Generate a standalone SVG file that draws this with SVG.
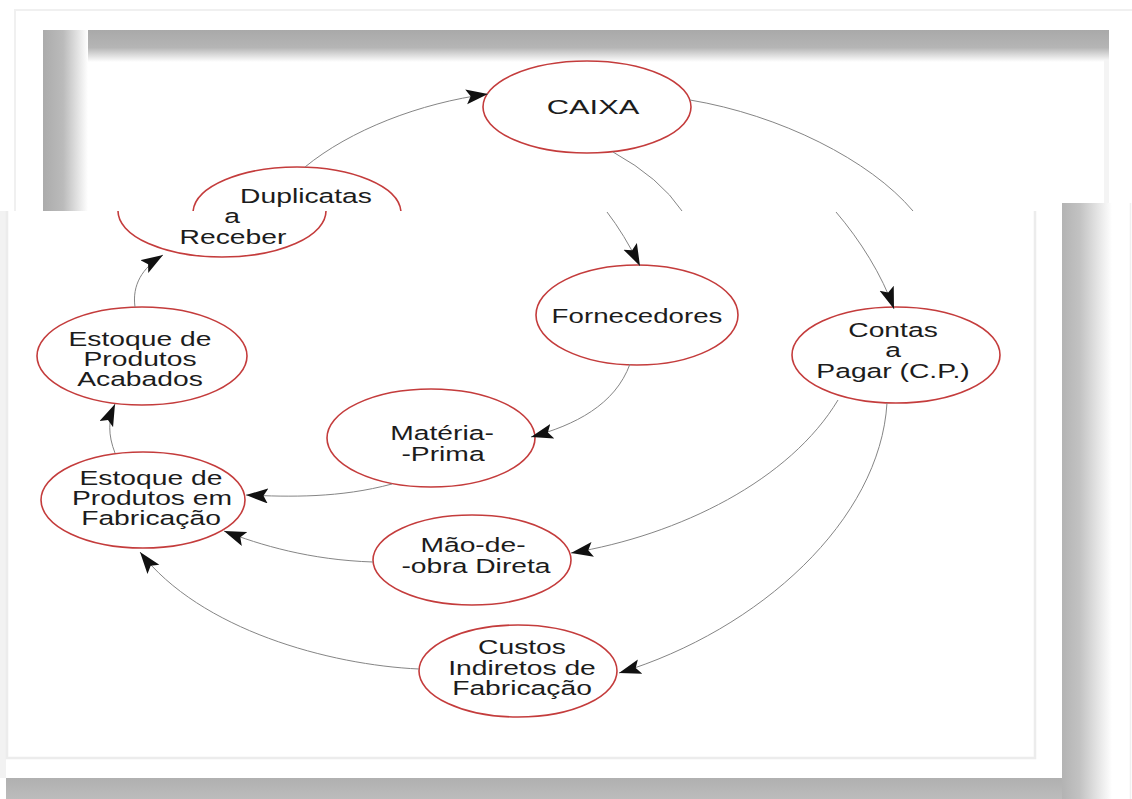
<svg xmlns="http://www.w3.org/2000/svg" width="1132" height="799" viewBox="0 0 1132 799">
<style>
.node{fill:#fff;stroke:#c43c3c;stroke-width:1.6}
.arc{fill:none;stroke:#c43c3c;stroke-width:1.6}
.lbl{font-family:"Liberation Sans",Arial,sans-serif;font-size:19.5px;fill:#1c1c1c;text-anchor:middle}
.big{font-size:21px}
.conn{fill:none;stroke:#858585;stroke-width:1}
.arr{marker-end:url(#ah)}
</style>
<defs>
<marker id="ah" markerUnits="userSpaceOnUse" markerWidth="24" markerHeight="16" refX="22" refY="7.5" orient="auto">
<path d="M0,0 L22,7.5 L0,15 L4.5,7.5 z" fill="#111"/>
</marker>
<linearGradient id="gTop" x1="0" y1="0" x2="0" y2="1">
<stop offset="0" stop-color="#a9a9a9"/><stop offset="0.55" stop-color="#b5b5b5"/><stop offset="1" stop-color="#fff"/>
</linearGradient>
<linearGradient id="gLeft" x1="0" y1="0" x2="1" y2="0">
<stop offset="0" stop-color="#ababab"/><stop offset="0.45" stop-color="#bbbbbb"/><stop offset="1" stop-color="#fff"/>
</linearGradient>
<linearGradient id="gRight" x1="0" y1="0" x2="1" y2="0">
<stop offset="0" stop-color="#b3b3b3"/><stop offset="0.35" stop-color="#c2c2c2"/><stop offset="1" stop-color="#fff"/>
</linearGradient>
<linearGradient id="gBottom" x1="0" y1="0" x2="0" y2="1">
<stop offset="0" stop-color="#b0b0b0"/><stop offset="1" stop-color="#bcbcbc"/>
</linearGradient>
</defs>

<!-- back picture -->
<g id="back-frame">
<rect x="0" y="0" width="1132" height="799" fill="#fff"/>
<path d="M15,211 V10 H1132" fill="none" stroke="#f0f0f0" stroke-width="2"/>
<rect x="43" y="30" width="1066" height="32" fill="url(#gTop)"/>
<rect x="43" y="30" width="45" height="181" fill="url(#gLeft)"/>
<rect x="1104" y="60" width="5" height="151" fill="#f4f4f4"/>
</g>

<g id="caixa">
<ellipse class="node" cx="587" cy="107" rx="104" ry="46"/>
<text class="lbl big" transform="translate(593,0) scale(1.47,1)" x="0" y="114">CAIXA</text>
</g>
<g id="duplicatas-back">
<path class="arc" d="M193.1,211 A104,46 0 0 1 400.9,211"/>
<text class="lbl" transform="translate(306,0) scale(1.45,1)" x="0" y="203">Duplicatas</text>
</g>

<!-- front picture -->
<g id="front-frame">
<rect x="0" y="211" width="1062" height="567" fill="#fff"/>
<rect x="1000" y="203" width="62" height="10" fill="#fff"/>
<rect x="0" y="211" width="6" height="567" fill="#f2f2f2"/>
<path d="M7,211 V758 H1035 V211" fill="none" stroke="#ececec" stroke-width="2.5"/>
<rect x="1062" y="203" width="50" height="596" fill="url(#gRight)"/>
<rect x="6" y="778" width="1056" height="21" fill="url(#gBottom)"/>
<rect x="1112" y="203" width="18" height="596" fill="#fff"/>
<line x1="1130.5" y1="203" x2="1130.5" y2="799" stroke="#f0f0f0" stroke-width="1.5"/>
</g>

<g id="duplicatas">
<path class="arc" d="M118,211 A104,46 0 1 0 326,211"/>
<text class="lbl" transform="translate(232,0) scale(1.45,1)" x="0" y="223">a</text>
<text class="lbl" transform="translate(233,0) scale(1.45,1)" x="0" y="244">Receber</text>
</g>
<g id="fornecedores">
<ellipse class="node" cx="637" cy="315" rx="101" ry="50"/>
<text class="lbl" transform="translate(637,0) scale(1.42,1)" x="0" y="323">Fornecedores</text>
</g>
<g id="contas">
<ellipse class="node" cx="896" cy="355" rx="104" ry="48"/>
<text class="lbl" transform="translate(893,0) scale(1.45,1)" x="0" y="337">Contas</text>
<text class="lbl" transform="translate(893,0) scale(1.45,1)" x="0" y="357">a</text>
<text class="lbl" transform="translate(893,0) scale(1.45,1)" x="0" y="378">Pagar (C.P.)</text>
</g>
<g id="acabados">
<ellipse class="node" cx="142" cy="356" rx="105" ry="49"/>
<text class="lbl" transform="translate(140,0) scale(1.45,1)" x="0" y="346">Estoque de</text>
<text class="lbl" transform="translate(140,0) scale(1.45,1)" x="0" y="366">Produtos</text>
<text class="lbl" transform="translate(140,0) scale(1.45,1)" x="0" y="386">Acabados</text>
</g>
<g id="fabricacao">
<ellipse class="node" cx="143" cy="500" rx="102" ry="48"/>
<text class="lbl" transform="translate(151,0) scale(1.45,1)" x="0" y="485">Estoque de</text>
<text class="lbl" transform="translate(152,0) scale(1.45,1)" x="0" y="505">Produtos em</text>
<text class="lbl" transform="translate(151,0) scale(1.45,1)" x="0" y="525">Fabricação</text>
</g>
<g id="materia-prima">
<ellipse class="node" cx="431" cy="438" rx="104" ry="49"/>
<text class="lbl" transform="translate(442,0) scale(1.45,1)" x="0" y="440">Matéria-</text>
<text class="lbl" transform="translate(443,0) scale(1.45,1)" x="0" y="461">-Prima</text>
</g>
<g id="mao-de-obra">
<ellipse class="node" cx="472" cy="560" rx="99" ry="45"/>
<text class="lbl" transform="translate(473,0) scale(1.45,1)" x="0" y="552">Mão-de-</text>
<text class="lbl" transform="translate(476,0) scale(1.45,1)" x="0" y="573">-obra Direta</text>
</g>
<g id="custos">
<ellipse class="node" cx="518" cy="671" rx="99" ry="46"/>
<text class="lbl" transform="translate(522,0) scale(1.45,1)" x="0" y="654">Custos</text>
<text class="lbl" transform="translate(522,0) scale(1.45,1)" x="0" y="675">Indiretos de</text>
<text class="lbl" transform="translate(522,0) scale(1.45,1)" x="0" y="695">Fabricação</text>
</g>

<g id="connectors">
<path class="conn arr" d="M305,167 C350,130 420,103 488,94"/>
<path class="conn" d="M613,152 Q660,178 682,211"/>
<path class="conn" d="M690,100 C780,115 870,160 913,211"/>
<path class="conn arr" d="M607,212 Q624,234 640,266"/>
<path class="conn arr" d="M836,212 C860,240 882,275 894,309"/>
<path class="conn arr" d="M630,364 C615,405 575,425 531,437"/>
<path class="conn arr" d="M392,484 C340,498 290,497 246,495"/>
<path class="conn arr" d="M373,562 C310,560 260,545 224,531"/>
<path class="conn arr" d="M419,669 C330,665 200,630 140,552"/>
<path class="conn arr" d="M838,400 C790,480 680,535 571,553"/>
<path class="conn arr" d="M887,403 C880,520 760,630 619,673"/>
<path class="conn arr" d="M115,453 C108,435 108,420 115,404"/>
<path class="conn arr" d="M135,307 C132,285 142,268 163,255"/>
</g>
</svg>
